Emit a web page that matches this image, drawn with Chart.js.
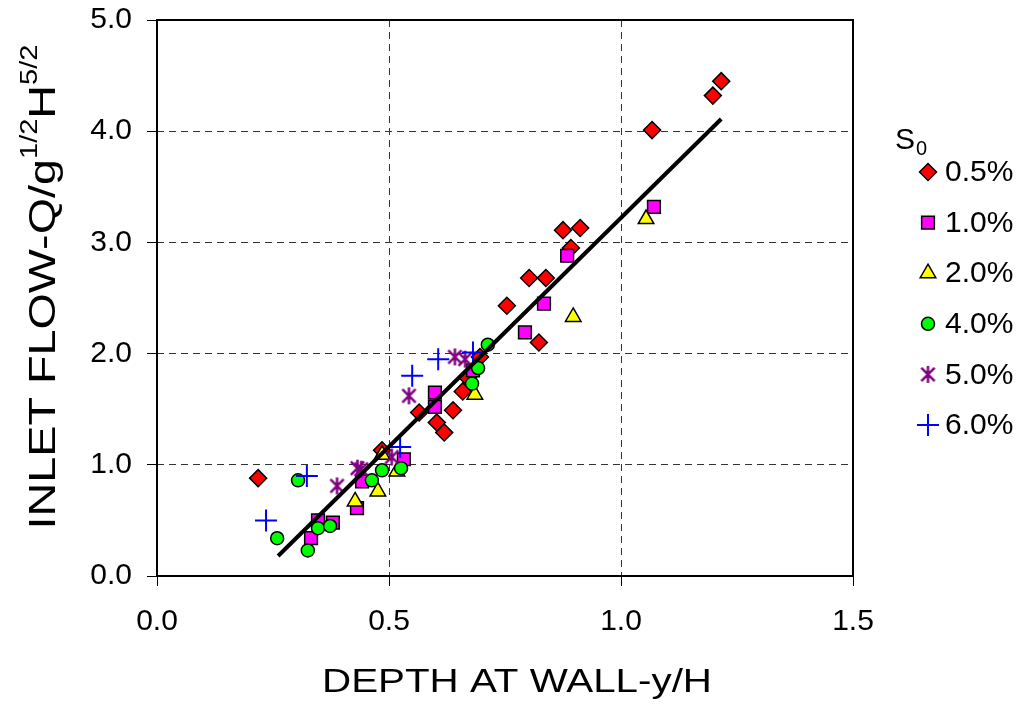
<!DOCTYPE html>
<html>
<head>
<meta charset="utf-8">
<title>Inlet flow vs depth at wall</title>
<script src="https://cdn.jsdelivr.net/npm/chart.js@4.4.1/dist/chart.umd.min.js"></script>
<style>
  html, body { margin: 0; padding: 0; background: #fff; }
  #wrap { width: 1023px; height: 705px; position: relative; }
</style>
</head>
<body>
<div id="wrap"><canvas id="chart"></canvas></div>
<script>
// slope series (legend labels)
const slopes = ['0.5%', '1.0%', '2.0%', '4.0%', '5.0%', '6.0%'];

// S0 = 0.5%
const s05x = [0.218, 0.485, 0.565, 0.638, 0.603, 0.619, 0.659, 0.670, 0.696, 0.823, 0.754, 0.802, 0.838, 0.892, 0.875, 0.912, 1.067, 1.198, 1.216];
const s05y = [0.88, 1.13, 1.47, 1.49, 1.38, 1.29, 1.66, 1.78, 1.97, 2.10, 2.43, 2.68, 2.68, 2.95, 3.11, 3.13, 4.01, 4.32, 4.45];
// S0 = 1.0%
const s10x = [0.332, 0.347, 0.379, 0.431, 0.442, 0.532, 0.599, 0.599, 0.681, 0.793, 0.834, 0.884, 1.071];
const s10y = [0.34, 0.50, 0.48, 0.61, 0.85, 1.05, 1.65, 1.52, 1.85, 2.19, 2.45, 2.88, 3.32];
// S0 = 2.0%
const s20x = [0.427, 0.476, 0.485, 0.517, 0.685, 0.897, 1.054];
const s20y = [0.67, 0.76, 1.09, 0.94, 1.63, 2.33, 3.21];
// S0 = 4.0%
const s40x = [0.259, 0.304, 0.325, 0.347, 0.373, 0.463, 0.485, 0.526, 0.679, 0.692, 0.713];
const s40y = [0.34, 0.86, 0.23, 0.43, 0.45, 0.86, 0.95, 0.97, 1.73, 1.87, 2.08];
// S0 = 5.0%
const s50x = [0.388, 0.432, 0.440, 0.506, 0.543, 0.642, 0.664];
const s50y = [0.81, 0.97, 0.96, 1.07, 1.62, 1.97, 1.95];
// S0 = 6.0%
const s60x = [0.235, 0.323, 0.524, 0.550, 0.606, 0.681];
const s60y = [0.50, 0.90, 1.16, 1.80, 1.95, 2.01];

// fitted line
const fitX = [0.261, 1.216];
const fitY = [0.18, 4.11];

const xTicks = [0, 0.5, 1.0, 1.5];
const yTicks = [0, 1, 2, 3, 4, 5];

const FONT = '"Liberation Sans", Arial, sans-serif';
Chart.defaults.font.family = FONT;
Chart.defaults.color = '#000';

function asteriskMark(size, color) {
  const c = document.createElement('canvas');
  c.width = size; c.height = size;
  const g = c.getContext('2d');
  g.strokeStyle = color;
  g.lineWidth = 2.5;
  const m = size / 2, r = size / 2 - 1;
  const d = r * 0.78;
  g.beginPath();
  g.moveTo(m, m - r); g.lineTo(m, m + r);
  g.moveTo(m - d, m - d); g.lineTo(m + d, m + d);
  g.moveTo(m - d, m + d); g.lineTo(m + d, m - d);
  g.stroke();
  return c;
}

const markers = [
  { style: 'rectRot', radius: 8.5, fill: '#FF0000', stroke: '#000', bw: 1.5 },
  { style: 'rect', radius: 9, fill: '#FF00FF', stroke: '#000', bw: 1.5 },
  { style: 'triangle', radius: 9, fill: '#FFFF00', stroke: '#000', bw: 1.5 },
  { style: 'circle', radius: 6.5, fill: '#00FF00', stroke: '#000', bw: 1.5 },
  { style: asteriskMark(19, '#800080'), radius: 9, fill: '#800080', stroke: '#800080', bw: 2 },
  { style: 'cross', radius: 11, fill: '#0000FF', stroke: '#0000FF', bw: 2 }
];

const seriesX = [s05x, s10x, s20x, s40x, s50x, s60x];
const seriesY = [s05y, s10y, s20y, s40y, s50y, s60y];

const toPts = (xs, ys) => xs.map((x, i) => ({ x: x, y: ys[i] }));

const datasets = slopes.map((label, i) => ({
  type: 'scatter',
  label: label,
  data: toPts(seriesX[i], seriesY[i]),
  pointStyle: markers[i].style,
  pointRadius: markers[i].radius,
  pointHoverRadius: markers[i].radius,
  backgroundColor: markers[i].fill,
  borderColor: markers[i].stroke,
  pointBorderWidth: markers[i].bw,
  borderWidth: markers[i].bw,
  order: slopes.length - i
}));

datasets.push({
  type: 'line',
  label: 'fit',
  data: toPts(fitX, fitY),
  borderColor: '#000',
  borderWidth: 4,
  pointRadius: 0,
  fill: false,
  order: 0
});

// plot frame
const framePlugin = {
  id: 'frame',
  beforeDatasetsDraw(chart) {
    const a = chart.chartArea, ctx = chart.ctx;
    ctx.save();
    ctx.strokeStyle = '#000';
    ctx.lineWidth = 2;
    ctx.setLineDash([]);
    ctx.strokeRect(a.left, a.top, a.right - a.left, a.bottom - a.top);
    ctx.restore();
  }
};

// axis titles with super/subscripts
const titlesPlugin = {
  id: 'titles',
  afterDraw(chart) {
    const ctx = chart.ctx;
    ctx.save();
    ctx.fillStyle = '#000';
    ctx.textBaseline = 'alphabetic';

    // x title
    ctx.font = '34px ' + FONT;
    const xt = 'DEPTH AT WALL-y/H';
    const xw = ctx.measureText(xt).width;
    ctx.save();
    ctx.translate(517, 692);
    ctx.scale(390 / xw, 1);
    ctx.textAlign = 'center';
    ctx.fillText(xt, 0, 0);
    ctx.restore();

    // y title
    const parts = [
      { t: 'INLET FLOW-Q/g', size: 37, dy: 0 },
      { t: '1/2', size: 23, dy: -18 },
      { t: 'H', size: 37, dy: 0 },
      { t: '5/2', size: 23, dy: -18 }
    ];
    let total = 0;
    parts.forEach(p => { ctx.font = p.size + 'px ' + FONT; p.w = ctx.measureText(p.t).width; total += p.w; });
    ctx.save();
    ctx.translate(55, 287);
    ctx.rotate(-Math.PI / 2);
    const k = 485 / total;
    ctx.scale(k, 1);
    ctx.textAlign = 'left';
    let u = -total / 2;
    parts.forEach(p => {
      ctx.font = p.size + 'px ' + FONT;
      ctx.fillText(p.t, u, p.dy);
      u += p.w;
    });
    ctx.restore();

    // legend
    ctx.font = '30px ' + FONT;
    ctx.textAlign = 'left';
    ctx.fillText('S', 895, 149);
    ctx.font = '20px ' + FONT;
    ctx.fillText('0', 916, 155);

    const draw = Chart.helpers && Chart.helpers.drawPoint;
    slopes.forEach((label, i) => {
      const y = 172 + i * 50.6;
      const m = markers[i];
      ctx.save();
      ctx.fillStyle = m.fill;
      ctx.strokeStyle = m.stroke;
      ctx.lineWidth = m.bw;
      if (draw) {
        draw(ctx, { pointStyle: m.style, radius: m.radius, borderWidth: m.bw, rotation: 0 }, 928, y);
      }
      ctx.restore();
      ctx.fillStyle = '#000';
      ctx.font = '30px ' + FONT;
      ctx.textBaseline = 'middle';
      ctx.fillText(label, 945, y + 1);
    });
    ctx.restore();
  }
};

new Chart(document.getElementById('chart'), {
  type: 'scatter',
  data: { datasets: datasets },
  options: {
    responsive: true,
    maintainAspectRatio: false,
    animation: false,
    layout: { padding: { left: 0, top: 20, right: 170, bottom: 0 } },
    plugins: {
      legend: { display: false },
      tooltip: { enabled: false }
    },
    scales: {
      x: {
        type: 'linear',
        min: xTicks[0],
        max: xTicks[xTicks.length - 1],
        afterBuildTicks: axis => { axis.ticks = xTicks.map(v => ({ value: v })); },
        afterFit: axis => { axis.height = 129; axis.paddingLeft = 0; axis.paddingRight = 0; },
        ticks: {
          font: { size: 30 },
          color: '#000',
          padding: 18,
          maxRotation: 0,
          callback: v => Number(v).toFixed(1)
        },
        grid: {
          color: '#333',
          lineWidth: 1,
          tickLength: 10,
          tickColor: '#000',
          tickWidth: 1,
          tickBorderDash: [],
          borderDash: [7, 5]
        },
        border: { display: false, dash: [7, 5] }
      },
      y: {
        type: 'linear',
        min: yTicks[0],
        max: yTicks[yTicks.length - 1],
        afterBuildTicks: axis => { axis.ticks = yTicks.map(v => ({ value: v })); },
        afterFit: axis => { axis.width = 157; axis.paddingTop = 0; axis.paddingBottom = 0; },
        ticks: {
          font: { size: 30 },
          color: '#000',
          padding: 15,
          callback: v => Number(v).toFixed(1)
        },
        grid: {
          color: '#333',
          lineWidth: 1,
          tickLength: 10,
          tickColor: '#000',
          tickWidth: 1,
          tickBorderDash: [],
          borderDash: [7, 5]
        },
        border: { display: false, dash: [7, 5] }
      }
    }
  },
  plugins: [framePlugin, titlesPlugin]
});
</script>
</body>
</html>
